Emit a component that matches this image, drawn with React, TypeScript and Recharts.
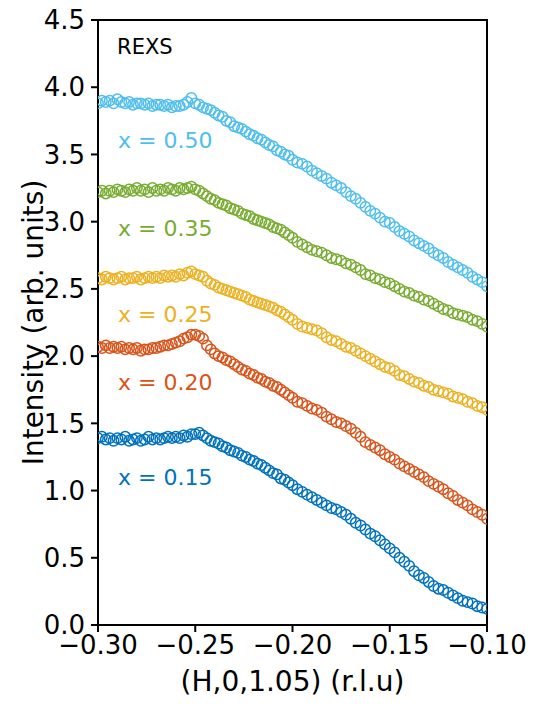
import React from "react";
import {
  ScatterChart,
  Scatter,
  XAxis,
  YAxis,
  ReferenceArea,
  ReferenceDot,
  Label,
} from "recharts";

// (H,0,1.05) positions in r.l.u – dense step on the left, coarser on the right
const H = [
  -0.3, -0.298, -0.296, -0.294, -0.292, -0.29, -0.288, -0.286, -0.284, -0.282,
  -0.28, -0.278, -0.276, -0.274, -0.272, -0.27, -0.268, -0.266, -0.264, -0.262,
  -0.26, -0.258, -0.256, -0.254, -0.252, -0.25, -0.248, -0.246, -0.244, -0.242,
  -0.24, -0.238, -0.236, -0.234, -0.232, -0.23, -0.228, -0.226, -0.224, -0.222,
  -0.22, -0.218, -0.216, -0.214, -0.212, -0.21, -0.208, -0.206, -0.204, -0.202,
  -0.2,
  -0.1975, -0.195, -0.1925, -0.19, -0.1875, -0.185, -0.1825, -0.18, -0.1775, -0.175,
  -0.1725, -0.17, -0.1675, -0.165, -0.1625, -0.16, -0.1575, -0.155, -0.1525, -0.15,
  -0.1475, -0.145, -0.1425, -0.14, -0.1375, -0.135, -0.1325, -0.13, -0.1275, -0.125,
  -0.1225, -0.12, -0.1175, -0.115, -0.1125, -0.11, -0.1075, -0.105, -0.1025, -0.1,
];

// intensity (offset) for each doping
const x050 = [
  3.88, 3.9, 3.89, 3.9, 3.88, 3.91, 3.89, 3.88, 3.89, 3.87,
  3.88, 3.88, 3.87, 3.88, 3.86, 3.87, 3.87, 3.86, 3.87, 3.85,
  3.86, 3.86, 3.87, 3.89, 3.92, 3.88, 3.87, 3.85, 3.84, 3.83,
  3.81, 3.79, 3.78, 3.75, 3.74, 3.71, 3.7, 3.69, 3.67, 3.65,
  3.64, 3.62, 3.61, 3.59, 3.57, 3.56, 3.53, 3.52, 3.5, 3.49,
  3.46,
  3.44, 3.43, 3.41, 3.38, 3.36, 3.34, 3.32, 3.29, 3.27, 3.25,
  3.22, 3.19, 3.17, 3.14, 3.11, 3.08, 3.06, 3.03, 3.0, 2.99,
  2.96, 2.93, 2.91, 2.89, 2.86, 2.84, 2.82, 2.8, 2.77, 2.75,
  2.73, 2.7, 2.68, 2.66, 2.64, 2.62, 2.59, 2.57, 2.55, 2.52,
];

const x035 = [
  3.22, 3.23, 3.21, 3.23, 3.22, 3.24, 3.23, 3.22, 3.24, 3.23,
  3.25, 3.23, 3.24, 3.22, 3.25, 3.23, 3.24, 3.23, 3.25, 3.24,
  3.23, 3.25, 3.24, 3.25, 3.26, 3.24, 3.23, 3.21, 3.19, 3.17,
  3.16, 3.14, 3.13, 3.12, 3.1, 3.09, 3.08, 3.06, 3.05, 3.04,
  3.02, 3.01, 3.0, 2.99, 2.98, 2.96, 2.95, 2.94, 2.92, 2.9,
  2.88,
  2.85, 2.83, 2.81, 2.79, 2.78, 2.77, 2.75, 2.73, 2.72, 2.71,
  2.69, 2.68, 2.66, 2.64, 2.61, 2.6, 2.58, 2.57, 2.55, 2.54,
  2.52, 2.5, 2.48, 2.47, 2.45, 2.44, 2.42, 2.41, 2.39, 2.37,
  2.35, 2.34, 2.32, 2.31, 2.3, 2.29, 2.27, 2.26, 2.24, 2.22,
];

const x025 = [
  2.58, 2.57, 2.59, 2.58, 2.57, 2.58, 2.59, 2.57, 2.58, 2.58,
  2.59, 2.57, 2.58, 2.59, 2.58, 2.59, 2.58, 2.6, 2.59, 2.6,
  2.59, 2.61, 2.6, 2.62, 2.63, 2.61, 2.6, 2.59, 2.56, 2.54,
  2.53, 2.51, 2.5, 2.49, 2.48, 2.47, 2.46, 2.45, 2.44, 2.42,
  2.41, 2.4, 2.39, 2.38, 2.37, 2.36, 2.34, 2.33, 2.31, 2.29,
  2.27,
  2.24, 2.22, 2.21, 2.2, 2.19, 2.17, 2.14, 2.12, 2.11, 2.09,
  2.07, 2.06, 2.04, 2.02, 2.0, 1.98, 1.96, 1.94, 1.92, 1.91,
  1.89, 1.86, 1.85, 1.83, 1.81, 1.8, 1.78, 1.77, 1.75, 1.74,
  1.73, 1.72, 1.7, 1.69, 1.68, 1.66, 1.65, 1.63, 1.62, 1.6,
];

const x020 = [
  2.07, 2.06, 2.08, 2.06, 2.07, 2.06, 2.07, 2.05, 2.06, 2.05,
  2.06, 2.04, 2.05, 2.05, 2.06, 2.06, 2.07, 2.08, 2.08, 2.09,
  2.1, 2.11, 2.13, 2.14, 2.16, 2.16, 2.15, 2.13, 2.08, 2.05,
  2.02, 2.0, 1.99, 1.97, 1.96, 1.94, 1.92, 1.9, 1.89, 1.87,
  1.86, 1.84, 1.83, 1.81, 1.8, 1.78, 1.77, 1.75, 1.73, 1.71,
  1.69,
  1.66, 1.65, 1.63, 1.61, 1.6, 1.58, 1.55, 1.53, 1.51, 1.5,
  1.48, 1.46, 1.43, 1.4, 1.36, 1.34, 1.32, 1.3, 1.27, 1.25,
  1.23, 1.2, 1.18, 1.16, 1.14, 1.12, 1.1, 1.07, 1.05, 1.03,
  1.01, 0.98, 0.96, 0.93, 0.91, 0.89, 0.86, 0.84, 0.82, 0.79,
];

const x015 = [
  1.39, 1.4, 1.38, 1.39, 1.37, 1.39, 1.38, 1.4, 1.37, 1.38,
  1.39, 1.37, 1.38, 1.4, 1.38, 1.39, 1.38, 1.39, 1.4, 1.39,
  1.4, 1.39, 1.41, 1.4, 1.42, 1.42, 1.43, 1.41, 1.39, 1.37,
  1.36, 1.35, 1.33, 1.32, 1.3, 1.29, 1.28, 1.26, 1.25, 1.23,
  1.22, 1.2, 1.19, 1.17, 1.15, 1.13, 1.12, 1.09, 1.08, 1.06,
  1.04,
  1.01, 0.99, 0.97, 0.95, 0.93, 0.91, 0.89, 0.87, 0.86, 0.84,
  0.82, 0.79, 0.76, 0.74, 0.71, 0.68, 0.66, 0.63, 0.6, 0.57,
  0.54, 0.5, 0.47, 0.44, 0.4, 0.37, 0.35, 0.32, 0.29, 0.27,
  0.26, 0.24, 0.22, 0.2, 0.18, 0.17, 0.16, 0.14, 0.13, 0.12,
];

const xTicks = [-0.3, -0.25, -0.2, -0.15, -0.1];
const yTicks = [0, 0.5, 1, 1.5, 2, 2.5, 3, 3.5, 4, 4.5];

// label name, anchor (H, intensity), colour
const series = [
  { name: "x = 0.50", values: x050, color: "#4DBEEE", lx: -0.2897, ly: 3.61 },
  { name: "x = 0.35", values: x035, color: "#77AC30", lx: -0.2897, ly: 2.95 },
  { name: "x = 0.25", values: x025, color: "#EDB120", lx: -0.2897, ly: 2.31 },
  { name: "x = 0.20", values: x020, color: "#D95319", lx: -0.2897, ly: 1.81 },
  { name: "x = 0.15", values: x015, color: "#0072BD", lx: -0.2897, ly: 1.1 },
];

const FONT = "'DejaVu Sans', sans-serif";

const fmt = (v: number, d: number) => v.toFixed(d).replace("-", "\u2212");

function textAt(value: string, color: string, size: number) {
  return (props: any) => {
    const vb = props.viewBox || {};
    const x = vb.x + (vb.width || 0) / 2;
    const y = vb.y + (vb.height || 0) / 2;
    return (
      <text
        x={x}
        y={y}
        dy="0.36em"
        fill={color}
        fontSize={size}
        fontFamily={FONT}
        textAnchor="start"
      >
        {value}
      </text>
    );
  };
}

export default function App() {
  return (
    <div style={{ position: "absolute", left: 0, top: 0, background: "#fff" }}>
      <ScatterChart
        width={538}
        height={706}
        margin={{ top: 20, right: 51, left: 0, bottom: 0 }}
      >
        <XAxis
          type="number"
          dataKey="h"
          domain={[-0.3, -0.1]}
          ticks={xTicks}
          allowDataOverflow
          axisLine={false}
          tickLine={{ stroke: "#000", strokeWidth: 2 }}
          tickSize={7}
          tickMargin={4}
          height={81}
          tick={{ fontSize: 26, fill: "#000", fontFamily: FONT }}
          tickFormatter={(v: number) => fmt(v, 2)}
          interval={0}
        >
          <Label
            value="(H,0,1.05) (r.l.u)"
            position="insideBottom"
            offset={15}
            style={{ fontSize: 28, fill: "#000", fontFamily: FONT }}
          />
        </XAxis>
        <YAxis
          type="number"
          dataKey="v"
          domain={[0, 4.5]}
          ticks={yTicks}
          allowDataOverflow
          axisLine={false}
          tickLine={{ stroke: "#000", strokeWidth: 2 }}
          tickSize={7}
          tickMargin={6}
          width={98}
          tick={{ fontSize: 26, fill: "#000", fontFamily: FONT }}
          tickFormatter={(v: number) => fmt(v, 1)}
          interval={0}
        >
          <Label
            value="Intensity (arb. units)"
            angle={-90}
            position="insideLeft"
            offset={33}
            style={{
              fontSize: 28,
              fill: "#000",
              fontFamily: FONT,
              textAnchor: "middle",
            }}
          />
        </YAxis>
        {series.map((s) => (
          <Scatter
            key={s.name}
            name={s.name}
            data={H.map((h, i) => ({ h, v: s.values[i] }))}
            isAnimationActive={false}
            shape={(p: any) => (
              <circle
                cx={p.cx}
                cy={p.cy}
                r={5.2}
                fill="none"
                stroke={s.color}
                strokeWidth={1.5}
              />
            )}
          />
        ))}
        {series.map((s) => (
          <ReferenceDot
            key={"lbl" + s.name}
            x={s.lx}
            y={s.ly}
            r={0}
            stroke="none"
            fill="none"
            label={{ content: textAt(s.name, s.color, 22) }}
          />
        ))}
        <ReferenceDot
          x={-0.2902}
          y={4.3}
          r={0}
          stroke="none"
          fill="none"
          label={{ content: textAt("REXS", "#000", 21) }}
        />
        <ReferenceArea
          x1={-0.3}
          x2={-0.1}
          y1={0}
          y2={4.5}
          fill="none"
          stroke="#000"
          strokeWidth={2}
          ifOverflow="visible"
        />
      </ScatterChart>
    </div>
  );
}
